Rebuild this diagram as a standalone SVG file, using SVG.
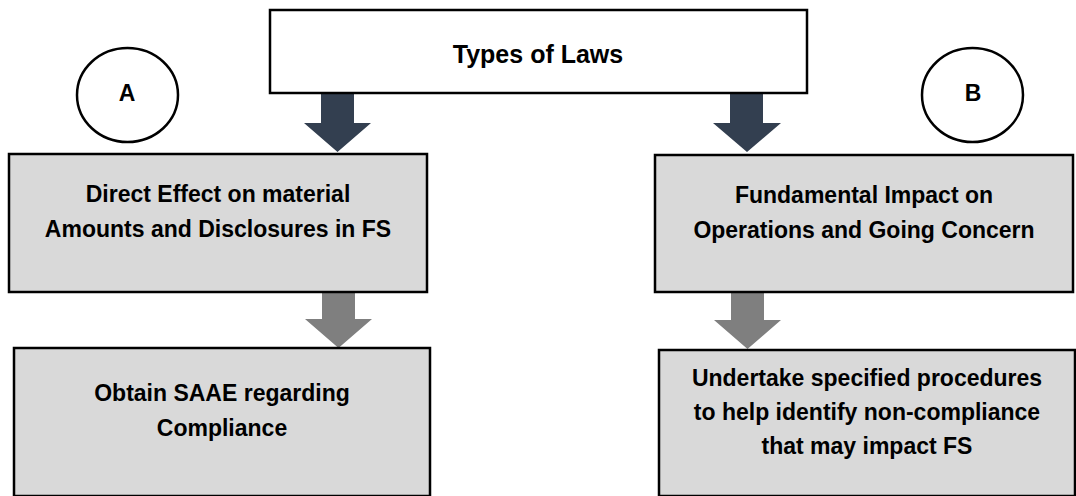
<svg xmlns="http://www.w3.org/2000/svg" width="1076" height="496" viewBox="0 0 1076 496">
  <style>
    .box { fill: #d9d9d9; stroke: #000; stroke-width: 2.5; }
    .title-box { fill: #fff; stroke: #000; stroke-width: 2.5; }
    .badge { fill: #fff; stroke: #000; stroke-width: 2.5; }
    .label { font-family: "Liberation Sans", Arial, sans-serif; font-weight: bold; font-size: 23px; fill: #000; text-anchor: middle; }
    .title { font-size: 25px; }
    .arrow-dark { fill: #333f50; }
    .arrow-grey { fill: #7f7f7f; }
  </style>

  <rect width="1076" height="496" fill="#fff"/>

  <!-- block arrows linking the boxes -->
  <g id="connectors">
    <polygon class="arrow-dark" points="321,93 354,93 354,123 371,123 337.5,152 304,123 321,123"/>
    <polygon class="arrow-dark" points="730,93 763,93 763,123 781,123 747,152 713,123 730,123"/>
    <polygon class="arrow-grey" points="322,292 355,292 355,319 372,319 338.5,348 305,319 322,319"/>
    <polygon class="arrow-grey" points="731,292 764,292 764,320 781,320 747.5,349 714,320 731,320"/>
  </g>

  <g id="types-of-laws">
    <rect class="title-box" x="270" y="10" width="537" height="83"/>
    <text class="label title" x="538" y="63">Types of Laws</text>
  </g>

  <g id="badge-a">
    <ellipse class="badge" cx="127.5" cy="95" rx="50.5" ry="47"/>
    <text class="label" x="127" y="101">A</text>
  </g>

  <g id="badge-b">
    <ellipse class="badge" cx="972.5" cy="95" rx="50.5" ry="47"/>
    <text class="label" x="973" y="101">B</text>
  </g>

  <g id="direct-effect">
    <rect class="box" x="9" y="154" width="418" height="138"/>
    <text class="label" x="218" y="202">Direct Effect on material</text>
    <text class="label" x="218" y="237">Amounts and Disclosures in FS</text>
  </g>

  <g id="fundamental-impact">
    <rect class="box" x="655" y="155" width="418" height="137"/>
    <text class="label" x="864" y="203">Fundamental Impact on</text>
    <text class="label" x="864" y="238">Operations and Going Concern</text>
  </g>

  <g id="obtain-saae">
    <rect class="box" x="14" y="348" width="416" height="148"/>
    <text class="label" x="222" y="401">Obtain SAAE regarding</text>
    <text class="label" x="222" y="436">Compliance</text>
  </g>

  <g id="specified-procedures">
    <rect class="box" x="659" y="350" width="416" height="146"/>
    <text class="label" x="867" y="386">Undertake specified procedures</text>
    <text class="label" x="867" y="420">to help identify non-compliance</text>
    <text class="label" x="867" y="454">that may impact FS</text>
  </g>
</svg>
